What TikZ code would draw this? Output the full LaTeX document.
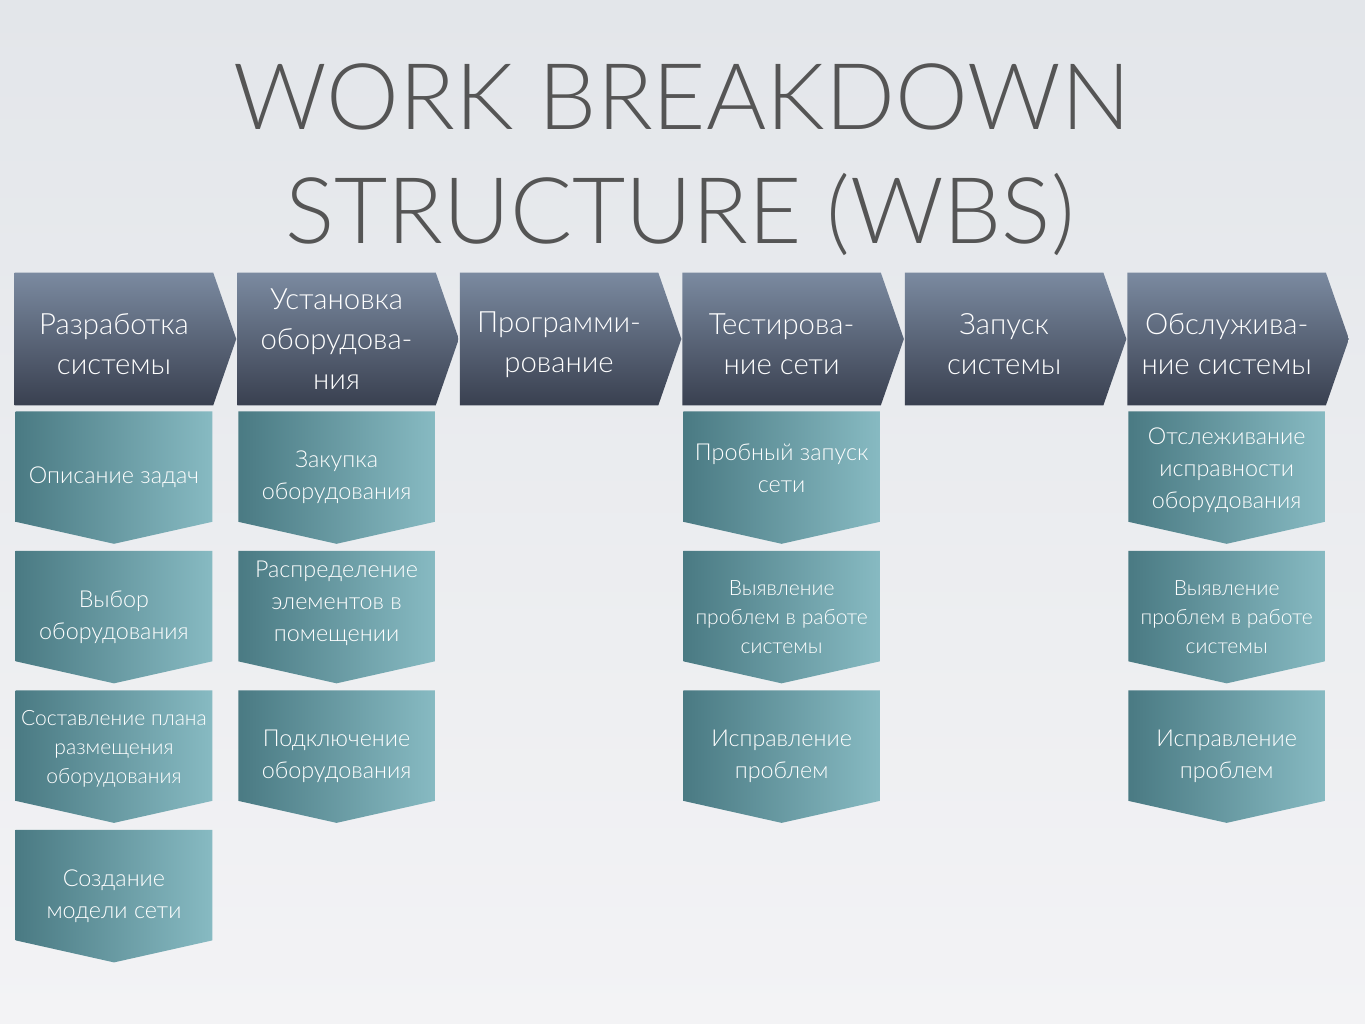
\documentclass[tikz,border=0pt]{standalone}
\usepackage{fontspec}
\setmainfont{Lato}[UprightFont={* Light}]
\usepackage{tikz}
\usetikzlibrary{
  positioning,
  backgrounds,
}
\definecolor{pageTop}{HTML}{E3E6EA}
\definecolor{pageBot}{HTML}{F3F3F5}
\definecolor{titleGray}{HTML}{555555}
\definecolor{hdrTop}{HTML}{7B8AA0}
\definecolor{hdrBot}{HTML}{394050}
\definecolor{taskLeft}{HTML}{4A7A83}
\definecolor{taskRight}{HTML}{87BAC2}
\tikzset{
  headline/.style={
    inner sep=0pt, text=titleGray, font=\fontsize{69}{80}\selectfont,
  },
  phase/.style={
    rectangle, minimum width=148.5pt, minimum height=99pt, inner sep=0pt,
    text=white, align=center, font=\fontsize{22}{30}\selectfont,
  },
  phaseLow/.style={
    phase, text height=53.5pt,   % two lines sit a bit lower
  },
  task/.style={
    rectangle, minimum width=147pt, minimum height=99pt, inner sep=0pt,
    text=white, align=center, font=\fontsize{17.5}{24}\selectfont,
  },
  taskSmall/.style={
    task, font=\fontsize{15.8}{21.75}\selectfont,
  },
  textUp/.style={text depth=#1},   % pushes the lines up a little
  phaseFill/.style={top color=hdrTop, bottom color=hdrBot},
  taskFill/.style={left color=taskLeft, right color=taskRight},
}

\begin{document}
\begin{tikzpicture}[x=0.75pt, y=-0.75pt]

\node[headline, anchor=base] (ttl1) at (682,130) {WORK BREAKDOWN};
\node[headline, anchor=base] (ttl2) at (680,243) {STRUCTURE (WBS)};

% phases
\node[phaseLow] (razr) at (114,339) {Разработка\\системы};
\node[phase, right=18pt of razr] (ustn) {Установка\\оборудова-\\ния};
\node[phaseLow, right=18pt of ustn] (prog) {Программи-\\рование};
\node[phaseLow, right=18pt of prog] (test) {Тестирова-\\ние сети};
\node[phaseLow, right=18pt of test] (zapusk) {Запуск\\системы};
\node[phaseLow, right=18pt of zapusk] (obsl) {Обслужива-\\ние системы};

% tasks
\node[task, below=4.5pt of razr] (opis) {Описание задач};
\node[task, below=5.25pt of opis] (vybor) {Выбор\\оборудования};
\node[taskSmall, textUp=15pt, below=5.25pt of vybor] (plan) {Составление плана\\размещения\\оборудования};
\node[task, below=5.25pt of plan] (model) {Создание\\модели сети};

\node[task, below=4.5pt of ustn] (zakup) {Закупка\\оборудования};
\node[task, textUp=24pt, below=5.25pt of zakup] (raspr) {Распределение\\элементов в\\помещении};
\node[task, below=5.25pt of raspr] (podkl) {Подключение\\оборудования};

\node[task, textUp=13.5pt, below=4.5pt of test] (probn) {Пробный запуск\\сети};
\node[taskSmall, below=5.25pt of probn] (vyyavT) {Выявление\\проблем в работе\\системы};
\node[task, below=5.25pt of vyyavT] (isprT) {Исправление\\проблем};

\node[task, textUp=14pt, below=4.5pt of obsl] (otsl) {Отслеживание\\исправности\\оборудования};
\node[taskSmall, below=5.25pt of otsl] (vyyavO) {Выявление\\проблем в работе\\системы};
\node[task, below=5.25pt of vyyavO] (isprO) {Исправление\\проблем};

\begin{scope}[on background layer]
  \fill[top color=pageTop, bottom color=pageBot] (0,0) rectangle (1365,1024);
  \foreach \n in {razr,ustn,prog,test,zapusk,obsl}
    \path[phaseFill] (\n.north west) -- (\n.north east) -- ([xshift=17.25pt]\n.east)
      -- (\n.south east) -- (\n.south west) -- cycle;
  \foreach \n in {opis,vybor,plan,model,zakup,raspr,podkl,probn,vyyavT,isprT,otsl,vyyavO,isprO}
    \path[taskFill] (\n.north west) -- (\n.north east) -- ([yshift=16.5pt]\n.south east)
      -- (\n.south) -- ([yshift=16.5pt]\n.south west) -- cycle;
\end{scope}

\end{tikzpicture}
\end{document}
